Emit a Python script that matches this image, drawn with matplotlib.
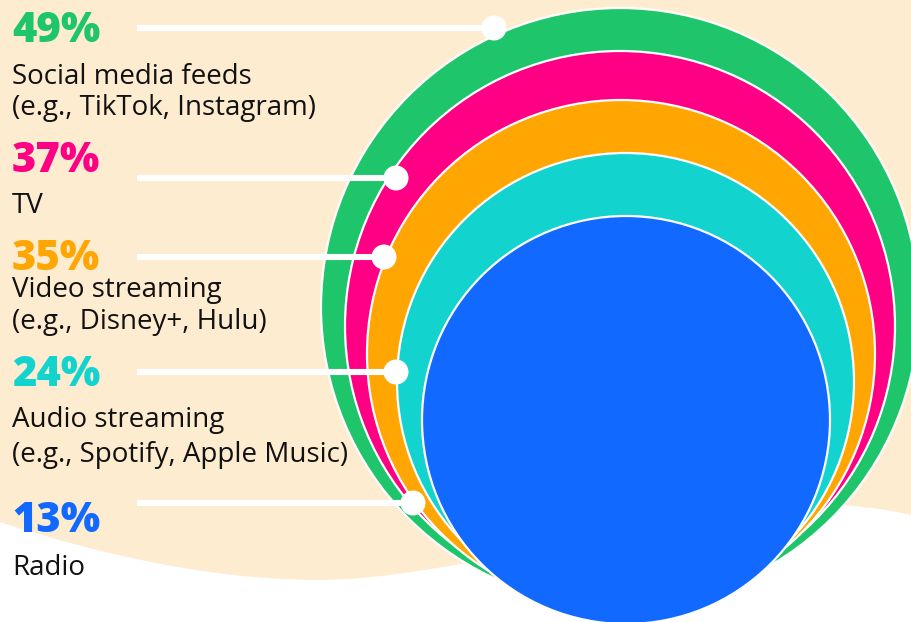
import matplotlib
matplotlib.use("Agg")
import matplotlib.pyplot as plt
from matplotlib.patches import Circle, PathPatch
from matplotlib.path import Path

# ---- data ----
percent_values = [49, 37, 35, 24, 13]
category_names = ["Social media feeds", "TV", "Video streaming", "Audio streaming", "Radio"]
category_examples = ["(e.g., TikTok, Instagram)", "", "(e.g., Disney+, Hulu)",
                     "(e.g., Spotify, Apple Music)", ""]
series_colors = ["#1EC56A", "#FF0084", "#FFA602", "#12D3CE", "#1269FF"]

# ---- layout (pixel space) ----
W, H = 911, 622
bg_color = "#FEECD0"
circle_cx = [620, 620, 621, 625.5, 626]
circle_cy = [307, 326, 354, 381.5, 420]
circle_r = [299, 275, 254, 228.5, 204]
pct_baseline = [42, 172, 270, 386, 532]
name_baseline = [84, 213, 297, 427, 575]
example_baseline = [115, None, 329, 462, None]
line_y = [28, 178, 257, 372, 503]
dot_x = [494, 396, 384, 396, 413]
line_x0 = 137
text_x = 12

fig = plt.figure(figsize=(W / 100, H / 100), dpi=100)
fig.patch.set_facecolor(bg_color)
ax = fig.add_axes([0, 0, 1, 1])
ax.set_xlim(0, W)
ax.set_ylim(H, 0)
ax.axis("off")
ax.set_facecolor(bg_color)

# white wave at the bottom
verts = [(0, 522),
         (110, 558), (220, 580), (320, 580),
         (450, 580), (680, 508), (800, 505),
         (850, 503), (890, 510), (911, 515),
         (911, H), (0, H), (0, 522)]
codes = [Path.MOVETO,
         Path.CURVE4, Path.CURVE4, Path.CURVE4,
         Path.CURVE4, Path.CURVE4, Path.CURVE4,
         Path.CURVE4, Path.CURVE4, Path.CURVE4,
         Path.LINETO, Path.LINETO, Path.CLOSEPOLY]
ax.add_patch(PathPatch(Path(verts, codes), facecolor="white", edgecolor="none", zorder=1))

# nested circles
for i, col in enumerate(series_colors):
    ax.add_patch(Circle((circle_cx[i], circle_cy[i]), circle_r[i],
                        facecolor=col, edgecolor="white", linewidth=1.6, zorder=2 + i))

# leader lines and dots
for i in range(len(percent_values)):
    ax.plot([line_x0, dot_x[i]], [line_y[i], line_y[i]], color="white", lw=4.4,
            solid_capstyle="butt", zorder=10)
    ax.add_patch(Circle((dot_x[i], line_y[i]), 12.5, facecolor="white", edgecolor="none", zorder=11))

# texts
for i, v in enumerate(percent_values):
    ax.text(text_x, pct_baseline[i], f"{v}%", color=series_colors[i], fontsize=30,
            fontfamily="Open Sans", fontweight=800, va="baseline", ha="left", zorder=12)
    ax.text(text_x, name_baseline[i], category_names[i], color="#111111", fontsize=20,
            fontfamily="Open Sans", va="baseline", ha="left", zorder=12)
    if category_examples[i]:
        ax.text(text_x, example_baseline[i], category_examples[i], color="#111111", fontsize=20,
                fontfamily="Open Sans", va="baseline", ha="left", zorder=12)

fig.savefig("out.png", dpi=100, facecolor=bg_color)
